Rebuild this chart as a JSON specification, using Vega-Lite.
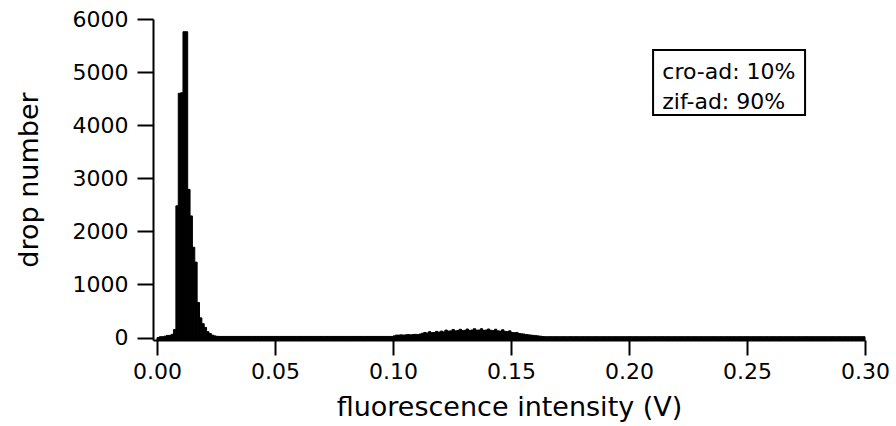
{
  "$schema": "https://vega.github.io/schema/vega-lite/v6.json",
  "width": 712,
  "height": 321,
  "padding": {"left": 153, "top": 19, "right": 31, "bottom": 86},
  "autosize": {"type": "none"},
  "background": "white",
  "config": {
    "view": {"stroke": null},
    "font": "DejaVu Sans",
    "axis": {
      "grid": false,
      "domainColor": "black",
      "domainWidth": 2,
      "tickColor": "black",
      "tickWidth": 2,
      "tickSize": 15,
      "labelFont": "DejaVu Sans",
      "labelFontSize": 22,
      "labelColor": "black",
      "titleFont": "DejaVu Sans",
      "titleFontSize": 27,
      "titleFontWeight": "normal",
      "titleColor": "black"
    }
  },
  "datasets": {
    "hist": [
      {"bin_start": 0.000, "bin_end": 0.001, "count": 0},
      {"bin_start": 0.001, "bin_end": 0.002, "count": 15},
      {"bin_start": 0.002, "bin_end": 0.003, "count": 15},
      {"bin_start": 0.003, "bin_end": 0.004, "count": 25},
      {"bin_start": 0.004, "bin_end": 0.005, "count": 40},
      {"bin_start": 0.005, "bin_end": 0.006, "count": 40},
      {"bin_start": 0.006, "bin_end": 0.007, "count": 60},
      {"bin_start": 0.007, "bin_end": 0.008, "count": 150},
      {"bin_start": 0.008, "bin_end": 0.009, "count": 2480},
      {"bin_start": 0.009, "bin_end": 0.010, "count": 4600},
      {"bin_start": 0.010, "bin_end": 0.011, "count": 4610},
      {"bin_start": 0.011, "bin_end": 0.012, "count": 5760},
      {"bin_start": 0.012, "bin_end": 0.013, "count": 5760},
      {"bin_start": 0.013, "bin_end": 0.014, "count": 2790},
      {"bin_start": 0.014, "bin_end": 0.015, "count": 2290},
      {"bin_start": 0.015, "bin_end": 0.016, "count": 1700},
      {"bin_start": 0.016, "bin_end": 0.017, "count": 1420},
      {"bin_start": 0.017, "bin_end": 0.018, "count": 660},
      {"bin_start": 0.018, "bin_end": 0.019, "count": 370},
      {"bin_start": 0.019, "bin_end": 0.020, "count": 260},
      {"bin_start": 0.020, "bin_end": 0.021, "count": 190},
      {"bin_start": 0.021, "bin_end": 0.022, "count": 110},
      {"bin_start": 0.022, "bin_end": 0.023, "count": 75},
      {"bin_start": 0.023, "bin_end": 0.024, "count": 45},
      {"bin_start": 0.024, "bin_end": 0.025, "count": 30},
      {"bin_start": 0.025, "bin_end": 0.026, "count": 22},
      {"bin_start": 0.026, "bin_end": 0.027, "count": 20},
      {"bin_start": 0.027, "bin_end": 0.028, "count": 20},
      {"bin_start": 0.028, "bin_end": 0.029, "count": 20},
      {"bin_start": 0.029, "bin_end": 0.030, "count": 20},
      {"bin_start": 0.030, "bin_end": 0.031, "count": 20},
      {"bin_start": 0.031, "bin_end": 0.032, "count": 20},
      {"bin_start": 0.032, "bin_end": 0.033, "count": 20},
      {"bin_start": 0.033, "bin_end": 0.034, "count": 20},
      {"bin_start": 0.034, "bin_end": 0.035, "count": 20},
      {"bin_start": 0.035, "bin_end": 0.036, "count": 20},
      {"bin_start": 0.036, "bin_end": 0.037, "count": 20},
      {"bin_start": 0.037, "bin_end": 0.038, "count": 20},
      {"bin_start": 0.038, "bin_end": 0.039, "count": 20},
      {"bin_start": 0.039, "bin_end": 0.040, "count": 20},
      {"bin_start": 0.040, "bin_end": 0.041, "count": 20},
      {"bin_start": 0.041, "bin_end": 0.042, "count": 20},
      {"bin_start": 0.042, "bin_end": 0.043, "count": 20},
      {"bin_start": 0.043, "bin_end": 0.044, "count": 20},
      {"bin_start": 0.044, "bin_end": 0.045, "count": 20},
      {"bin_start": 0.045, "bin_end": 0.046, "count": 20},
      {"bin_start": 0.046, "bin_end": 0.047, "count": 20},
      {"bin_start": 0.047, "bin_end": 0.048, "count": 20},
      {"bin_start": 0.048, "bin_end": 0.049, "count": 20},
      {"bin_start": 0.049, "bin_end": 0.050, "count": 20},
      {"bin_start": 0.050, "bin_end": 0.051, "count": 20},
      {"bin_start": 0.051, "bin_end": 0.052, "count": 20},
      {"bin_start": 0.052, "bin_end": 0.053, "count": 20},
      {"bin_start": 0.053, "bin_end": 0.054, "count": 20},
      {"bin_start": 0.054, "bin_end": 0.055, "count": 20},
      {"bin_start": 0.055, "bin_end": 0.056, "count": 20},
      {"bin_start": 0.056, "bin_end": 0.057, "count": 20},
      {"bin_start": 0.057, "bin_end": 0.058, "count": 20},
      {"bin_start": 0.058, "bin_end": 0.059, "count": 20},
      {"bin_start": 0.059, "bin_end": 0.060, "count": 20},
      {"bin_start": 0.060, "bin_end": 0.061, "count": 20},
      {"bin_start": 0.061, "bin_end": 0.062, "count": 20},
      {"bin_start": 0.062, "bin_end": 0.063, "count": 20},
      {"bin_start": 0.063, "bin_end": 0.064, "count": 20},
      {"bin_start": 0.064, "bin_end": 0.065, "count": 20},
      {"bin_start": 0.065, "bin_end": 0.066, "count": 20},
      {"bin_start": 0.066, "bin_end": 0.067, "count": 20},
      {"bin_start": 0.067, "bin_end": 0.068, "count": 20},
      {"bin_start": 0.068, "bin_end": 0.069, "count": 20},
      {"bin_start": 0.069, "bin_end": 0.070, "count": 20},
      {"bin_start": 0.070, "bin_end": 0.071, "count": 20},
      {"bin_start": 0.071, "bin_end": 0.072, "count": 20},
      {"bin_start": 0.072, "bin_end": 0.073, "count": 20},
      {"bin_start": 0.073, "bin_end": 0.074, "count": 20},
      {"bin_start": 0.074, "bin_end": 0.075, "count": 20},
      {"bin_start": 0.075, "bin_end": 0.076, "count": 20},
      {"bin_start": 0.076, "bin_end": 0.077, "count": 20},
      {"bin_start": 0.077, "bin_end": 0.078, "count": 20},
      {"bin_start": 0.078, "bin_end": 0.079, "count": 20},
      {"bin_start": 0.079, "bin_end": 0.080, "count": 20},
      {"bin_start": 0.080, "bin_end": 0.081, "count": 20},
      {"bin_start": 0.081, "bin_end": 0.082, "count": 20},
      {"bin_start": 0.082, "bin_end": 0.083, "count": 20},
      {"bin_start": 0.083, "bin_end": 0.084, "count": 20},
      {"bin_start": 0.084, "bin_end": 0.085, "count": 20},
      {"bin_start": 0.085, "bin_end": 0.086, "count": 20},
      {"bin_start": 0.086, "bin_end": 0.087, "count": 20},
      {"bin_start": 0.087, "bin_end": 0.088, "count": 20},
      {"bin_start": 0.088, "bin_end": 0.089, "count": 20},
      {"bin_start": 0.089, "bin_end": 0.090, "count": 20},
      {"bin_start": 0.090, "bin_end": 0.091, "count": 20},
      {"bin_start": 0.091, "bin_end": 0.092, "count": 20},
      {"bin_start": 0.092, "bin_end": 0.093, "count": 20},
      {"bin_start": 0.093, "bin_end": 0.094, "count": 20},
      {"bin_start": 0.094, "bin_end": 0.095, "count": 20},
      {"bin_start": 0.095, "bin_end": 0.096, "count": 20},
      {"bin_start": 0.096, "bin_end": 0.097, "count": 20},
      {"bin_start": 0.097, "bin_end": 0.098, "count": 20},
      {"bin_start": 0.098, "bin_end": 0.099, "count": 20},
      {"bin_start": 0.099, "bin_end": 0.100, "count": 20},
      {"bin_start": 0.100, "bin_end": 0.101, "count": 30},
      {"bin_start": 0.101, "bin_end": 0.102, "count": 45},
      {"bin_start": 0.102, "bin_end": 0.103, "count": 45},
      {"bin_start": 0.103, "bin_end": 0.104, "count": 50},
      {"bin_start": 0.104, "bin_end": 0.105, "count": 45},
      {"bin_start": 0.105, "bin_end": 0.106, "count": 50},
      {"bin_start": 0.106, "bin_end": 0.107, "count": 55},
      {"bin_start": 0.107, "bin_end": 0.108, "count": 50},
      {"bin_start": 0.108, "bin_end": 0.109, "count": 55},
      {"bin_start": 0.109, "bin_end": 0.110, "count": 60},
      {"bin_start": 0.110, "bin_end": 0.111, "count": 55},
      {"bin_start": 0.111, "bin_end": 0.112, "count": 65},
      {"bin_start": 0.112, "bin_end": 0.113, "count": 80},
      {"bin_start": 0.113, "bin_end": 0.114, "count": 95},
      {"bin_start": 0.114, "bin_end": 0.115, "count": 85},
      {"bin_start": 0.115, "bin_end": 0.116, "count": 110},
      {"bin_start": 0.116, "bin_end": 0.117, "count": 90},
      {"bin_start": 0.117, "bin_end": 0.118, "count": 95},
      {"bin_start": 0.118, "bin_end": 0.119, "count": 115},
      {"bin_start": 0.119, "bin_end": 0.120, "count": 100},
      {"bin_start": 0.120, "bin_end": 0.121, "count": 120},
      {"bin_start": 0.121, "bin_end": 0.122, "count": 105},
      {"bin_start": 0.122, "bin_end": 0.123, "count": 140},
      {"bin_start": 0.123, "bin_end": 0.124, "count": 120},
      {"bin_start": 0.124, "bin_end": 0.125, "count": 125},
      {"bin_start": 0.125, "bin_end": 0.126, "count": 150},
      {"bin_start": 0.126, "bin_end": 0.127, "count": 125},
      {"bin_start": 0.127, "bin_end": 0.128, "count": 130},
      {"bin_start": 0.128, "bin_end": 0.129, "count": 155},
      {"bin_start": 0.129, "bin_end": 0.130, "count": 130},
      {"bin_start": 0.130, "bin_end": 0.131, "count": 135},
      {"bin_start": 0.131, "bin_end": 0.132, "count": 160},
      {"bin_start": 0.132, "bin_end": 0.133, "count": 135},
      {"bin_start": 0.133, "bin_end": 0.134, "count": 140},
      {"bin_start": 0.134, "bin_end": 0.135, "count": 165},
      {"bin_start": 0.135, "bin_end": 0.136, "count": 140},
      {"bin_start": 0.136, "bin_end": 0.137, "count": 140},
      {"bin_start": 0.137, "bin_end": 0.138, "count": 165},
      {"bin_start": 0.138, "bin_end": 0.139, "count": 135},
      {"bin_start": 0.139, "bin_end": 0.140, "count": 140},
      {"bin_start": 0.140, "bin_end": 0.141, "count": 160},
      {"bin_start": 0.141, "bin_end": 0.142, "count": 135},
      {"bin_start": 0.142, "bin_end": 0.143, "count": 130},
      {"bin_start": 0.143, "bin_end": 0.144, "count": 155},
      {"bin_start": 0.144, "bin_end": 0.145, "count": 125},
      {"bin_start": 0.145, "bin_end": 0.146, "count": 120},
      {"bin_start": 0.146, "bin_end": 0.147, "count": 145},
      {"bin_start": 0.147, "bin_end": 0.148, "count": 115},
      {"bin_start": 0.148, "bin_end": 0.149, "count": 110},
      {"bin_start": 0.149, "bin_end": 0.150, "count": 125},
      {"bin_start": 0.150, "bin_end": 0.151, "count": 95},
      {"bin_start": 0.151, "bin_end": 0.152, "count": 90},
      {"bin_start": 0.152, "bin_end": 0.153, "count": 95},
      {"bin_start": 0.153, "bin_end": 0.154, "count": 75},
      {"bin_start": 0.154, "bin_end": 0.155, "count": 70},
      {"bin_start": 0.155, "bin_end": 0.156, "count": 65},
      {"bin_start": 0.156, "bin_end": 0.157, "count": 55},
      {"bin_start": 0.157, "bin_end": 0.158, "count": 50},
      {"bin_start": 0.158, "bin_end": 0.159, "count": 45},
      {"bin_start": 0.159, "bin_end": 0.160, "count": 40},
      {"bin_start": 0.160, "bin_end": 0.161, "count": 35},
      {"bin_start": 0.161, "bin_end": 0.162, "count": 30},
      {"bin_start": 0.162, "bin_end": 0.163, "count": 25},
      {"bin_start": 0.163, "bin_end": 0.164, "count": 18},
      {"bin_start": 0.164, "bin_end": 0.165, "count": 15},
      {"bin_start": 0.165, "bin_end": 0.166, "count": 15},
      {"bin_start": 0.166, "bin_end": 0.167, "count": 15},
      {"bin_start": 0.167, "bin_end": 0.168, "count": 15},
      {"bin_start": 0.168, "bin_end": 0.169, "count": 15},
      {"bin_start": 0.169, "bin_end": 0.170, "count": 15},
      {"bin_start": 0.170, "bin_end": 0.171, "count": 15},
      {"bin_start": 0.171, "bin_end": 0.172, "count": 15},
      {"bin_start": 0.172, "bin_end": 0.173, "count": 15},
      {"bin_start": 0.173, "bin_end": 0.174, "count": 15},
      {"bin_start": 0.174, "bin_end": 0.175, "count": 15},
      {"bin_start": 0.175, "bin_end": 0.176, "count": 15},
      {"bin_start": 0.176, "bin_end": 0.177, "count": 15},
      {"bin_start": 0.177, "bin_end": 0.178, "count": 15},
      {"bin_start": 0.178, "bin_end": 0.179, "count": 15},
      {"bin_start": 0.179, "bin_end": 0.180, "count": 15},
      {"bin_start": 0.180, "bin_end": 0.181, "count": 15},
      {"bin_start": 0.181, "bin_end": 0.182, "count": 15},
      {"bin_start": 0.182, "bin_end": 0.183, "count": 15},
      {"bin_start": 0.183, "bin_end": 0.184, "count": 15},
      {"bin_start": 0.184, "bin_end": 0.185, "count": 15},
      {"bin_start": 0.185, "bin_end": 0.186, "count": 15},
      {"bin_start": 0.186, "bin_end": 0.187, "count": 15},
      {"bin_start": 0.187, "bin_end": 0.188, "count": 15},
      {"bin_start": 0.188, "bin_end": 0.189, "count": 15},
      {"bin_start": 0.189, "bin_end": 0.190, "count": 15},
      {"bin_start": 0.190, "bin_end": 0.191, "count": 15},
      {"bin_start": 0.191, "bin_end": 0.192, "count": 15},
      {"bin_start": 0.192, "bin_end": 0.193, "count": 15},
      {"bin_start": 0.193, "bin_end": 0.194, "count": 15},
      {"bin_start": 0.194, "bin_end": 0.195, "count": 15},
      {"bin_start": 0.195, "bin_end": 0.196, "count": 15},
      {"bin_start": 0.196, "bin_end": 0.197, "count": 15},
      {"bin_start": 0.197, "bin_end": 0.198, "count": 15},
      {"bin_start": 0.198, "bin_end": 0.199, "count": 15},
      {"bin_start": 0.199, "bin_end": 0.200, "count": 15},
      {"bin_start": 0.200, "bin_end": 0.201, "count": 15},
      {"bin_start": 0.201, "bin_end": 0.202, "count": 15},
      {"bin_start": 0.202, "bin_end": 0.203, "count": 15},
      {"bin_start": 0.203, "bin_end": 0.204, "count": 15},
      {"bin_start": 0.204, "bin_end": 0.205, "count": 15},
      {"bin_start": 0.205, "bin_end": 0.206, "count": 15},
      {"bin_start": 0.206, "bin_end": 0.207, "count": 15},
      {"bin_start": 0.207, "bin_end": 0.208, "count": 15},
      {"bin_start": 0.208, "bin_end": 0.209, "count": 15},
      {"bin_start": 0.209, "bin_end": 0.210, "count": 15},
      {"bin_start": 0.210, "bin_end": 0.211, "count": 15},
      {"bin_start": 0.211, "bin_end": 0.212, "count": 15},
      {"bin_start": 0.212, "bin_end": 0.213, "count": 15},
      {"bin_start": 0.213, "bin_end": 0.214, "count": 15},
      {"bin_start": 0.214, "bin_end": 0.215, "count": 15},
      {"bin_start": 0.215, "bin_end": 0.216, "count": 15},
      {"bin_start": 0.216, "bin_end": 0.217, "count": 15},
      {"bin_start": 0.217, "bin_end": 0.218, "count": 15},
      {"bin_start": 0.218, "bin_end": 0.219, "count": 15},
      {"bin_start": 0.219, "bin_end": 0.220, "count": 15},
      {"bin_start": 0.220, "bin_end": 0.221, "count": 15},
      {"bin_start": 0.221, "bin_end": 0.222, "count": 15},
      {"bin_start": 0.222, "bin_end": 0.223, "count": 15},
      {"bin_start": 0.223, "bin_end": 0.224, "count": 15},
      {"bin_start": 0.224, "bin_end": 0.225, "count": 15},
      {"bin_start": 0.225, "bin_end": 0.226, "count": 15},
      {"bin_start": 0.226, "bin_end": 0.227, "count": 15},
      {"bin_start": 0.227, "bin_end": 0.228, "count": 15},
      {"bin_start": 0.228, "bin_end": 0.229, "count": 15},
      {"bin_start": 0.229, "bin_end": 0.230, "count": 15},
      {"bin_start": 0.230, "bin_end": 0.231, "count": 15},
      {"bin_start": 0.231, "bin_end": 0.232, "count": 15},
      {"bin_start": 0.232, "bin_end": 0.233, "count": 15},
      {"bin_start": 0.233, "bin_end": 0.234, "count": 15},
      {"bin_start": 0.234, "bin_end": 0.235, "count": 15},
      {"bin_start": 0.235, "bin_end": 0.236, "count": 15},
      {"bin_start": 0.236, "bin_end": 0.237, "count": 15},
      {"bin_start": 0.237, "bin_end": 0.238, "count": 15},
      {"bin_start": 0.238, "bin_end": 0.239, "count": 15},
      {"bin_start": 0.239, "bin_end": 0.240, "count": 15},
      {"bin_start": 0.240, "bin_end": 0.241, "count": 15},
      {"bin_start": 0.241, "bin_end": 0.242, "count": 15},
      {"bin_start": 0.242, "bin_end": 0.243, "count": 15},
      {"bin_start": 0.243, "bin_end": 0.244, "count": 15},
      {"bin_start": 0.244, "bin_end": 0.245, "count": 15},
      {"bin_start": 0.245, "bin_end": 0.246, "count": 15},
      {"bin_start": 0.246, "bin_end": 0.247, "count": 15},
      {"bin_start": 0.247, "bin_end": 0.248, "count": 15},
      {"bin_start": 0.248, "bin_end": 0.249, "count": 15},
      {"bin_start": 0.249, "bin_end": 0.250, "count": 15},
      {"bin_start": 0.250, "bin_end": 0.251, "count": 15},
      {"bin_start": 0.251, "bin_end": 0.252, "count": 15},
      {"bin_start": 0.252, "bin_end": 0.253, "count": 15},
      {"bin_start": 0.253, "bin_end": 0.254, "count": 15},
      {"bin_start": 0.254, "bin_end": 0.255, "count": 15},
      {"bin_start": 0.255, "bin_end": 0.256, "count": 15},
      {"bin_start": 0.256, "bin_end": 0.257, "count": 15},
      {"bin_start": 0.257, "bin_end": 0.258, "count": 15},
      {"bin_start": 0.258, "bin_end": 0.259, "count": 15},
      {"bin_start": 0.259, "bin_end": 0.260, "count": 15},
      {"bin_start": 0.260, "bin_end": 0.261, "count": 15},
      {"bin_start": 0.261, "bin_end": 0.262, "count": 15},
      {"bin_start": 0.262, "bin_end": 0.263, "count": 15},
      {"bin_start": 0.263, "bin_end": 0.264, "count": 15},
      {"bin_start": 0.264, "bin_end": 0.265, "count": 15},
      {"bin_start": 0.265, "bin_end": 0.266, "count": 15},
      {"bin_start": 0.266, "bin_end": 0.267, "count": 15},
      {"bin_start": 0.267, "bin_end": 0.268, "count": 15},
      {"bin_start": 0.268, "bin_end": 0.269, "count": 15},
      {"bin_start": 0.269, "bin_end": 0.270, "count": 15},
      {"bin_start": 0.270, "bin_end": 0.271, "count": 15},
      {"bin_start": 0.271, "bin_end": 0.272, "count": 15},
      {"bin_start": 0.272, "bin_end": 0.273, "count": 15},
      {"bin_start": 0.273, "bin_end": 0.274, "count": 15},
      {"bin_start": 0.274, "bin_end": 0.275, "count": 15},
      {"bin_start": 0.275, "bin_end": 0.276, "count": 15},
      {"bin_start": 0.276, "bin_end": 0.277, "count": 15},
      {"bin_start": 0.277, "bin_end": 0.278, "count": 15},
      {"bin_start": 0.278, "bin_end": 0.279, "count": 15},
      {"bin_start": 0.279, "bin_end": 0.280, "count": 15},
      {"bin_start": 0.280, "bin_end": 0.281, "count": 15},
      {"bin_start": 0.281, "bin_end": 0.282, "count": 15},
      {"bin_start": 0.282, "bin_end": 0.283, "count": 15},
      {"bin_start": 0.283, "bin_end": 0.284, "count": 15},
      {"bin_start": 0.284, "bin_end": 0.285, "count": 15},
      {"bin_start": 0.285, "bin_end": 0.286, "count": 15},
      {"bin_start": 0.286, "bin_end": 0.287, "count": 15},
      {"bin_start": 0.287, "bin_end": 0.288, "count": 15},
      {"bin_start": 0.288, "bin_end": 0.289, "count": 15},
      {"bin_start": 0.289, "bin_end": 0.290, "count": 15},
      {"bin_start": 0.290, "bin_end": 0.291, "count": 15},
      {"bin_start": 0.291, "bin_end": 0.292, "count": 15},
      {"bin_start": 0.292, "bin_end": 0.293, "count": 15},
      {"bin_start": 0.293, "bin_end": 0.294, "count": 15},
      {"bin_start": 0.294, "bin_end": 0.295, "count": 15},
      {"bin_start": 0.295, "bin_end": 0.296, "count": 15},
      {"bin_start": 0.296, "bin_end": 0.297, "count": 15},
      {"bin_start": 0.297, "bin_end": 0.298, "count": 15},
      {"bin_start": 0.298, "bin_end": 0.299, "count": 15},
      {"bin_start": 0.299, "bin_end": 0.300, "count": 15}
    ],
    "note": [
      {"line": "cro-ad: 10%", "row": 1},
      {"line": "zif-ad: 90%", "row": 2}
    ]
  },
  "layer": [
    {
      "data": {"name": "hist"},
      "mark": {"type": "bar", "color": "black", "stroke": "black", "strokeWidth": 1},
      "encoding": {
        "x": {
          "field": "bin_start",
          "type": "quantitative",
          "scale": {"domain": [-0.0017, 0.3], "nice": false, "zero": false},
          "axis": {
            "title": "fluorescence intensity (V)",
            "values": [0, 0.05, 0.1, 0.15, 0.2, 0.25, 0.3],
            "format": ".2f",
            "labelPadding": 6,
            "titlePadding": 12,
            "labelFlush": false
          }
        },
        "x2": {"field": "bin_end"},
        "y": {
          "field": "count",
          "type": "quantitative",
          "scale": {"domain": [-47, 6000], "nice": false, "zero": false},
          "axis": {
            "title": "drop number",
            "values": [0, 1000, 2000, 3000, 4000, 5000, 6000],
            "format": "d",
            "tickSize": 16,
            "labelPadding": 9,
            "titlePadding": 29,
            "labelFlush": false
          }
        },
        "y2": {"datum": -47}
      }
    },
    {
      "data": {"values": [{"x1": 0.2102, "x2": 0.2746, "y1": 5416, "y2": 4192}]},
      "mark": {"type": "rect", "fill": "white", "stroke": "black", "strokeWidth": 2},
      "encoding": {
        "x": {"field": "x1", "type": "quantitative"},
        "x2": {"field": "x2"},
        "y": {"field": "y1", "type": "quantitative"},
        "y2": {"field": "y2"}
      }
    },
    {
      "data": {"name": "note"},
      "transform": [{"filter": "datum.row == 1"}],
      "mark": {"type": "text", "align": "left", "baseline": "middle", "font": "DejaVu Sans", "fontSize": 22, "color": "black"},
      "encoding": {
        "x": {"datum": 0.2141},
        "y": {"datum": 4997},
        "text": {"field": "line"}
      }
    },
    {
      "data": {"name": "note"},
      "transform": [{"filter": "datum.row == 2"}],
      "mark": {"type": "text", "align": "left", "baseline": "middle", "font": "DejaVu Sans", "fontSize": 22, "color": "black"},
      "encoding": {
        "x": {"datum": 0.2141},
        "y": {"datum": 4432},
        "text": {"field": "line"}
      }
    }
  ]
}
